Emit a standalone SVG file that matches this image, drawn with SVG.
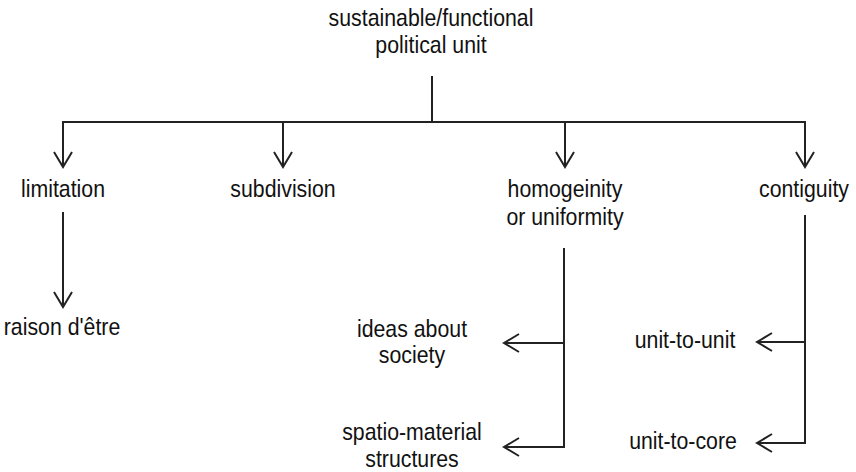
<svg xmlns="http://www.w3.org/2000/svg" width="856" height="472" viewBox="0 0 856 472">
  <style>
    .lbl { font-family: "Liberation Sans", Arial, sans-serif; font-size: 24px; fill: #111; text-anchor: middle; }
    .ln { fill: none; stroke: #222; stroke-width: 2; }
  </style>
  <defs>
    <marker id="arr" viewBox="-17 -11 19 22" refX="0" refY="0" markerWidth="19" markerHeight="22" markerUnits="userSpaceOnUse" orient="auto">
      <path d="M-15,-9 L0,0 L-15,9" fill="none" stroke="#222" stroke-width="2" stroke-linejoin="miter"/>
    </marker>
  </defs>
  <rect width="856" height="472" fill="#fff"/>

  <g id="connectors">
    <line class="ln" x1="432" y1="76" x2="432" y2="122"/>
    <line class="ln" x1="62" y1="122" x2="806" y2="122"/>
    <line class="ln" x1="63" y1="122" x2="63" y2="167" marker-end="url(#arr)"/>
    <line class="ln" x1="283" y1="122" x2="283" y2="167" marker-end="url(#arr)"/>
    <line class="ln" x1="565" y1="122" x2="565" y2="167" marker-end="url(#arr)"/>
    <line class="ln" x1="805" y1="122" x2="805" y2="167" marker-end="url(#arr)"/>
    <line class="ln" x1="63" y1="212" x2="63" y2="307" marker-end="url(#arr)"/>
    <line class="ln" x1="564" y1="248" x2="564" y2="448"/>
    <line class="ln" x1="565" y1="343" x2="504" y2="343" marker-end="url(#arr)"/>
    <line class="ln" x1="565" y1="447" x2="504" y2="447" marker-end="url(#arr)"/>
    <line class="ln" x1="805" y1="215" x2="805" y2="444"/>
    <line class="ln" x1="806" y1="342" x2="757" y2="342" marker-end="url(#arr)"/>
    <line class="ln" x1="806" y1="443" x2="757" y2="443" marker-end="url(#arr)"/>
  </g>

  <g id="root">
    <text class="lbl" transform="translate(431,26) scale(0.8875,1)">sustainable/functional</text>
    <text class="lbl" transform="translate(431,53) scale(0.8875,1)">political unit</text>
  </g>
  <g id="limitation">
    <text class="lbl" transform="translate(63,197) scale(0.8875,1)">limitation</text>
  </g>
  <g id="subdivision">
    <text class="lbl" transform="translate(283,197) scale(0.8875,1)">subdivision</text>
  </g>
  <g id="homogeneity">
    <text class="lbl" transform="translate(565,197) scale(0.8875,1)">homogeinity</text>
    <text class="lbl" transform="translate(565,225) scale(0.8875,1)">or uniformity</text>
  </g>
  <g id="contiguity">
    <text class="lbl" transform="translate(804,197) scale(0.8875,1)">contiguity</text>
  </g>
  <g id="raison">
    <text class="lbl" transform="translate(62,335) scale(0.8875,1)">raison d'être</text>
  </g>
  <g id="ideas">
    <text class="lbl" transform="translate(412,337) scale(0.8875,1)">ideas about</text>
    <text class="lbl" transform="translate(412,363) scale(0.8875,1)">society</text>
  </g>
  <g id="spatio">
    <text class="lbl" transform="translate(412,440) scale(0.8875,1)">spatio-material</text>
    <text class="lbl" transform="translate(412,467) scale(0.8875,1)">structures</text>
  </g>
  <g id="unit-to-unit">
    <text class="lbl" transform="translate(685,348) scale(0.8875,1)">unit-to-unit</text>
  </g>
  <g id="unit-to-core">
    <text class="lbl" transform="translate(683,449) scale(0.8875,1)">unit-to-core</text>
  </g>
</svg>
